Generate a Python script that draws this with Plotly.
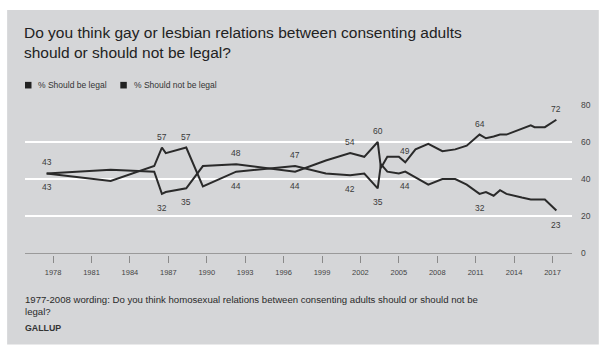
import plotly.graph_objects as go

# ---------------- data ----------------
years = [1977.5, 1982.5, 1985.9, 1986.5, 1986.8, 1988.4, 1989.7, 1992.3, 1996.9,
         1999.3, 2001.2, 2002.3, 2003.35, 2003.6, 2004.1, 2005.0, 2005.5, 2006.3,
         2007.3, 2008.4, 2009.4, 2010.3, 2011.3, 2011.8, 2012.4, 2012.9, 2013.4,
         2014.6, 2015.3, 2015.6, 2016.4, 2017.3]
should_be_legal = [43, 45, 44, 32, 33, 35, 47, 48, 44,
                   50, 54, 52, 60, 46, 52, 52, 49, 56,
                   59, 55, 56, 58, 64, 62, 63, 64, 64,
                   67, 69, 68, 68, 72]
should_not_be_legal = [43, 39, 47, 57, 54, 57, 36, 44, 47,
                       43, 42, 43, 35, 48, 44, 43, 44, 41,
                       37, 40, 40, 37, 32, 33, 31, 34, 32,
                       30, 29, 29, 29, 23]
labeled_idx = [0, 3, 5, 7, 8, 10, 12, 16, 22, 31]

series_names = ["% Should be legal", "% Should not be legal"]
x_ticks = [1978, 1981, 1984, 1987, 1990, 1993, 1996, 1999, 2002, 2005, 2008, 2011, 2014, 2017]
y_ticks = [0, 20, 40, 60, 80]

title_lines = ["Do you think gay or lesbian relations between consenting adults",
               "should or should not be legal?"]
footnote_lines = ["1977-2008 wording: Do you think homosexual relations between consenting adults should or should not be",
                  "legal?"]
source = "GALLUP"

# ---------------- styling / geometry ----------------
FW, FH = 603, 347
L, R = 25, 576
T, B = 103.8, 254.55
BG = "#d5d6d8"
LINE = "#2a2a2a"
FONT = "Liberation Sans, Arial, sans-serif"


def fx(p):
    return (p - L) / (R - L)


def fy(p):
    return (B - p) / (B - T)


fig = go.Figure()
for name, vals in zip(series_names, [should_be_legal, should_not_be_legal]):
    fig.add_trace(go.Scatter(x=years, y=vals, mode="lines", name=name,
                             line=dict(color=LINE, width=2), showlegend=False,
                             hoverinfo="skip"))

annotations = []
# data labels: higher value above, lower value below
for i in labeled_idx:
    hi = max(should_be_legal[i], should_not_be_legal[i])
    lo = min(should_be_legal[i], should_not_be_legal[i])
    annotations.append(dict(x=years[i], y=hi, xref="x", yref="y", text=str(hi),
                            showarrow=False, yshift=11, yanchor="middle",
                            font=dict(family=FONT, size=8.5, color="#3a3a3a")))
    annotations.append(dict(x=years[i], y=lo, xref="x", yref="y", text=str(lo),
                            showarrow=False, yshift=-14, yanchor="middle",
                            font=dict(family=FONT, size=8.5, color="#3a3a3a")))

# title
for line, ypix in zip(title_lines, [32, 52]):
    annotations.append(dict(x=fx(22), y=fy(ypix), xref="paper", yref="paper",
                            text=line, showarrow=False, xanchor="left", yanchor="middle",
                            font=dict(family=FONT, size=15.5, color="#222222")))

# panel + legend
shapes = [dict(type="rect", xref="paper", yref="paper", x0=fx(7), x1=fx(603),
               y0=fy(344), y1=fy(10), fillcolor=BG, line=dict(width=0), layer="below")]
for name, sx, tx in zip(series_names, [25, 121], [36, 133]):
    shapes.append(dict(type="rect", xref="paper", yref="paper",
                       xsizemode="pixel", ysizemode="pixel",
                       xanchor=fx(sx), yanchor=fy(85), x0=0, x1=6.5, y0=-3.3, y1=3.3,
                       fillcolor="#222222", line=dict(width=0)))
    annotations.append(dict(x=fx(tx), y=fy(85), xref="paper", yref="paper", text=name,
                            showarrow=False, xanchor="left", yanchor="middle",
                            font=dict(family=FONT, size=8.5, color="#333333")))

# footnote + source
for line, ypix in zip(footnote_lines, [299, 311]):
    annotations.append(dict(x=fx(23), y=fy(ypix), xref="paper", yref="paper", text=line,
                            showarrow=False, xanchor="left", yanchor="middle",
                            font=dict(family=FONT, size=9.6, color="#2a2a2a")))
annotations.append(dict(x=fx(23), y=fy(327), xref="paper", yref="paper",
                        text="<b>" + source + "</b>", showarrow=False,
                        xanchor="left", yanchor="middle",
                        font=dict(family=FONT, size=8.8, color="#333333")))

fig.update_layout(
    width=FW, height=FH,
    margin=dict(l=L, r=FW - R, t=T, b=FH - B, pad=0),
    paper_bgcolor="white", plot_bgcolor="rgba(0,0,0,0)",
    showlegend=False,
    annotations=annotations, shapes=shapes,
    xaxis=dict(range=[1975.81, 2018.52], tickvals=x_ticks, ticks="outside", ticklen=7,
               tickcolor="#8a8a8a", tickwidth=1, showgrid=False, zeroline=False,
               showline=False, ticklabelstandoff=3,
               tickfont=dict(family=FONT, size=7.5, color="#444444")),
    yaxis=dict(range=[-1, 80.5], tickvals=y_ticks, side="right", showgrid=True,
               gridcolor="white", gridwidth=2, zeroline=True, zerolinecolor="#9a9a9a",
               zerolinewidth=1, ticks="", ticklabelstandoff=8, showline=False,
               tickfont=dict(family=FONT, size=8.5, color="#444444")),
)

fig.write_html("out.html")
